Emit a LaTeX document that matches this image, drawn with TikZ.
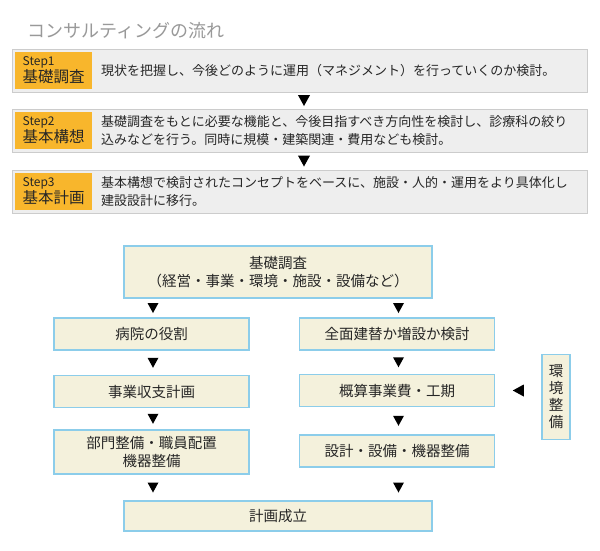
\documentclass[tikz,border=0pt]{standalone}
\usepackage{fontspec}
\newfontfamily\jpfont{Noto Sans CJK JP}
\usepackage{tikz}
\usetikzlibrary{positioning,calc}

\definecolor{tagorange}{HTML}{F8B62C}
\definecolor{stepgray}{HTML}{EEEEEE}
\definecolor{stepline}{HTML}{CCCCCC}
\definecolor{boxfill}{HTML}{F4F1DC}
\definecolor{boxline}{HTML}{8CCDEA}
\definecolor{titlegray}{HTML}{999999}

\begin{document}
\begin{tikzpicture}[
  x=1pt, y=-1pt,
  font=\jpfont,
  every node/.style={align=center, inner sep=0pt, text=black!85},
  stepbox/.style={draw=stepline, line width=1pt, fill=stepgray, minimum width=575pt, minimum height=43pt},
  steptag/.style={fill=tagorange, minimum width=77pt, minimum height=37pt, text width=61pt, align=left, anchor=north west},
  steptext/.style={anchor=west, align=left, font=\jpfont\fontsize{13}{18}\selectfont},
  flowbox/.style={draw=boxline, line width=1.5pt, fill=boxfill, minimum width=195pt, minimum height=32pt, font=\jpfont\fontsize{14.5}{18}\selectfont},
  downmark/.pic={\fill (-5.5pt,5pt) -- (5.5pt,5pt) -- (0pt,-5pt) -- cycle;},
  leftmark/.pic={\fill (-5.5pt,0pt) -- (5.5pt,6pt) -- (5.5pt,-6pt) -- cycle;}
]
\path[fill=white, use as bounding box] (0,0) rectangle (600,550);

% steps
\node[anchor=west, text=titlegray, font=\jpfont\fontsize{18}{18}\selectfont] (title) at (27,31) {コンサルティングの流れ};

\node[stepbox] (s1) at (299.5,70.5) {};
\node[stepbox, below=16pt of s1] (s2) {};
\node[stepbox, below=17pt of s2] (s3) {};

\node[steptag] (tag1) at ([shift={(3pt,-3pt)}]s1.north west) {\fontsize{12}{12}\selectfont Step1\\\fontsize{15.5}{18}\selectfont 基礎調査};
\node[steptag] (tag2) at ([shift={(3pt,-3pt)}]s2.north west) {\fontsize{12}{12}\selectfont Step2\\\fontsize{15.5}{18}\selectfont 基本構想};
\node[steptag] (tag3) at ([shift={(3pt,-3pt)}]s3.north west) {\fontsize{12}{12}\selectfont Step3\\\fontsize{15.5}{18}\selectfont 基本計画};

\node[steptext] (txt1) at ([xshift=9pt]tag1.east) {現状を把握し、今後どのように運用（マネジメント）を行っていくのか検討。};
\node[steptext] (txt2) at ([xshift=9pt]tag2.east) {基礎調査をもとに必要な機能と、今後目指すべき方向性を検討し、診療科の絞り\\込みなどを行う。同時に規模・建築関連・費用なども検討。};
\node[steptext] (txt3) at ([xshift=9pt]tag3.east) {基本構想で検討されたコンセプトをベースに、施設・人的・運用をより具体化し\\建設設計に移行。};

\pic[scale=1.1] at ($(s1.south)!.5!(s2.north)+(4.5pt,0pt)$) {downmark};
\pic[scale=1.1] at ($(s2.south)!.5!(s3.north)+(4.5pt,0pt)$) {downmark};

% flow
\node[flowbox, minimum width=308pt, minimum height=52pt] (survey) at (278,272) {基礎調査\\（経営・事業・環境・施設・設備など）};
\node[flowbox] (role) at (151.5,334) {病院の役割};
\node[flowbox, right=49pt of role] (rebuild) {全面建替か増設か検討};
\node[flowbox, below=24pt of role] (income) {事業収支計画};
\node[flowbox, below=23pt of rebuild] (cost) {概算事業費・工期};
\node[flowbox, below=21pt of income, minimum height=44pt] (dept) {部門整備・職員配置\\機器整備};
\node[flowbox, below=27pt of cost] (design) {設計・設備・機器整備};
\node[flowbox, minimum width=308pt, minimum height=30pt] (plan) at (278,516) {計画成立};
\node[flowbox, minimum width=28pt, minimum height=85pt, right=46pt of cost, yshift=-6.5pt, font=\jpfont\fontsize{14.5}{17}\selectfont] (env) {環\\境\\整\\備};

\pic at ($(survey.south -| role.north)!.5!(role.north)+(1.5pt,0pt)$) {downmark};
\pic at ($(survey.south -| rebuild.north)!.5!(rebuild.north)+(1.5pt,0pt)$) {downmark};
\pic at ($(role.south)!.5!(income.north)+(1.5pt,0pt)$) {downmark};
\pic at ($(rebuild.south)!.5!(cost.north)+(1.5pt,0pt)$) {downmark};
\pic at ($(income.south)!.5!(dept.north)+(1.5pt,0pt)$) {downmark};
\pic at ($(cost.south)!.5!(design.north)+(1.5pt,0pt)$) {downmark};
\pic at ($(dept.south)!.5!(plan.north -| dept.south)+(1.5pt,0pt)$) {downmark};
\pic at ($(dept.south -| design.south)!.5!(plan.north -| design.south)+(1.5pt,0pt)$) {downmark};
\pic at ($(cost.east)!.5!(cost.east -| env.west)$) {leftmark};
\end{tikzpicture}
\end{document}
